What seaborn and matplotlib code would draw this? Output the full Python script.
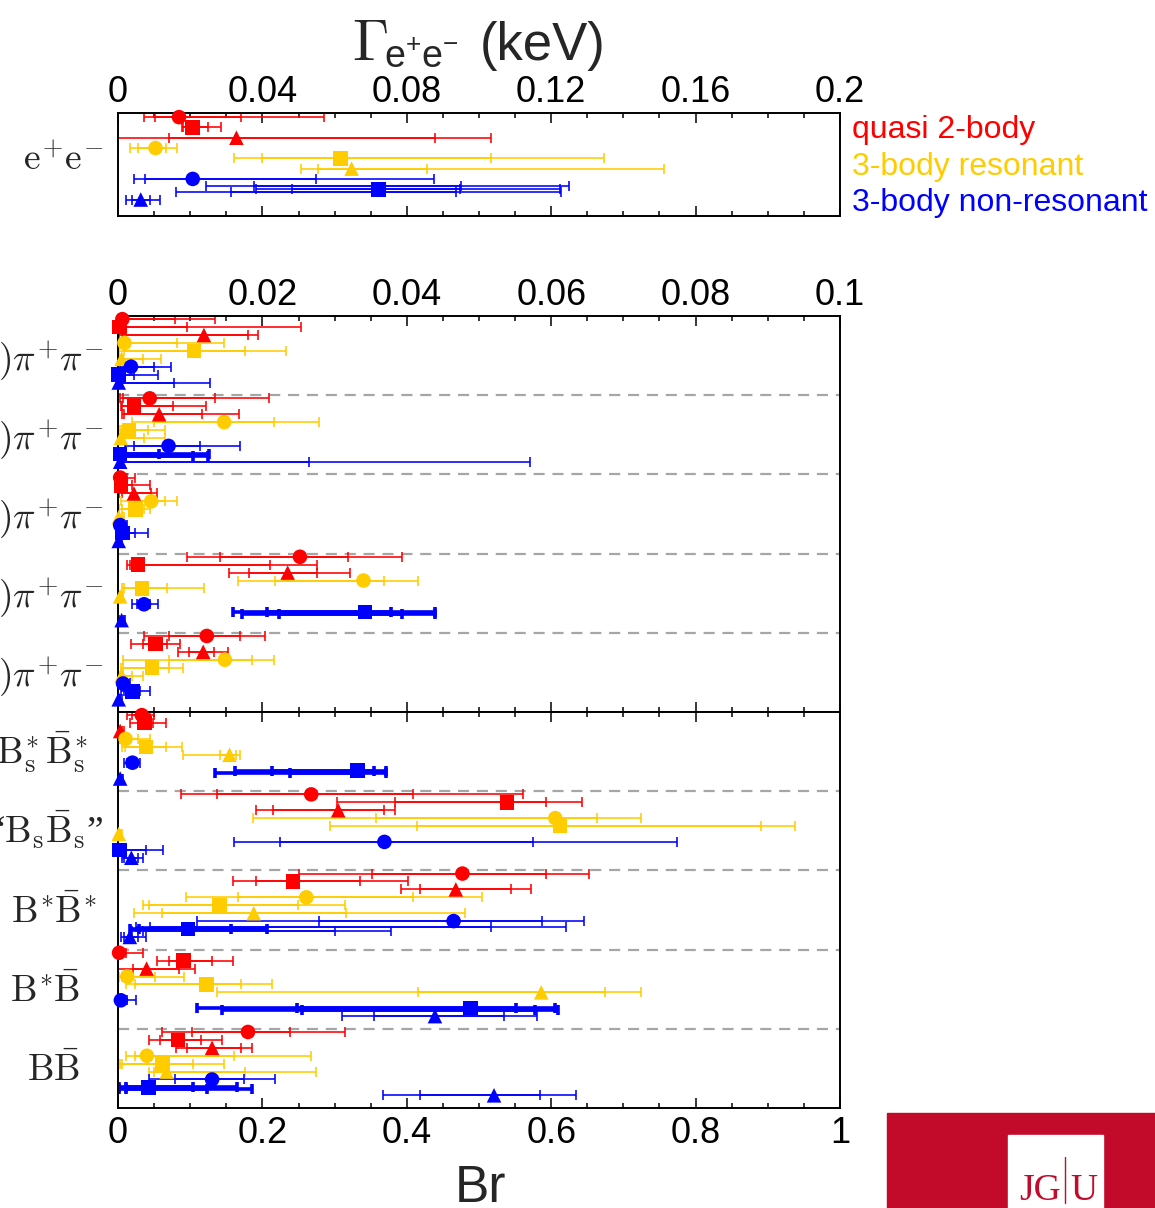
import matplotlib
matplotlib.use("Agg")
import matplotlib.pyplot as plt
from matplotlib.ticker import MultipleLocator, FuncFormatter
from matplotlib.patches import Rectangle
from matplotlib.lines import Line2D
import pandas as pd
import seaborn as sns

MECHANISMS = ["quasi 2-body", "3-body resonant", "3-body non-resonant"]
SHAPES = ["o", "s", "^"]

# Every row: centre, inner low, inner high, outer low, outer high.
# Row order inside a group: quasi 2-body (o, s, ^), 3-body resonant (o, s, ^),
# 3-body non-resonant (o, s, ^).

# Gamma(e+e-) in keV
GAMMA_EE = [
    (0.0169, 0.0102, 0.0341, 0.0072, 0.0572),
    (0.0207, 0.0180, 0.0248, 0.0176, 0.0284),
    (0.0328, 0.0142, 0.0879, -0.0030, 0.1034),
    (0.0104, 0.0056, 0.0133, 0.0033, 0.0163),
    (0.0616, 0.0398, 0.1034, 0.0321, 0.1346),
    (0.0647, 0.0555, 0.0856, 0.0506, 0.1512),
    (0.0207, 0.0075, 0.0549, 0.0043, 0.0875),
    (0.0721, 0.0483, 0.0946, 0.0383, 0.1225),
    (0.0063, 0.0038, 0.0089, 0.0023, 0.0115),
]

# branching fractions into bottomonium + pi+ pi-
PIPI_LABELS = [r"$\Upsilon(1\mathrm{S})\pi^{\!+}\!\pi^{\!-}$",
               r"$\Upsilon(2\mathrm{S})\pi^{\!+}\!\pi^{\!-}$",
               r"$\Upsilon(3\mathrm{S})\pi^{\!+}\!\pi^{\!-}$",
               r"$h_b(1\mathrm{P})\pi^{\!+}\!\pi^{\!-}$",
               r"$h_b(2\mathrm{P})\pi^{\!+}\!\pi^{\!-}$"]
PIPI_1 = [
    (0.0006, 0.0002, 0.0079, 0.0000, 0.0134),
    (0.0002, 0.0000, 0.0096, 0.0000, 0.0253),
    (0.0119, 0.0006, 0.0180, 0.0002, 0.0194),
    (0.0009, 0.0003, 0.0082, 0.0000, 0.0147),
    (0.0105, 0.0008, 0.0176, 0.0002, 0.0233),
    (0.0005, 0.0002, 0.0035, 0.0000, 0.0060),
    (0.0018, 0.0008, 0.0050, 0.0003, 0.0074),
    (0.0001, 0.0000, 0.0022, 0.0000, 0.0055),
    (0.0001, 0.0000, 0.0077, 0.0000, 0.0128),
]
PIPI_2 = [
    (0.0044, 0.0007, 0.0135, 0.0003, 0.0209),
    (0.0022, 0.0006, 0.0076, 0.0004, 0.0122),
    (0.0057, 0.0008, 0.0117, 0.0005, 0.0168),
    (0.0147, 0.0050, 0.0216, 0.0020, 0.0278),
    (0.0015, 0.0004, 0.0042, 0.0002, 0.0065),
    (0.0004, 0.0001, 0.0036, 0.0000, 0.0065),
    (0.0070, 0.0022, 0.0114, 0.0010, 0.0169),
    (0.0003, 0.0000, 0.0057, 0.0000, 0.0126),
    (0.0003, 0.0001, 0.0265, 0.0000, 0.0570),
]
PIPI_3 = [
    (0.0003, 0.0001, 0.0012, 0.0000, 0.0024),
    (0.0004, 0.0001, 0.0020, 0.0000, 0.0044),
    (0.0022, 0.0005, 0.0046, 0.0001, 0.0054),
    (0.0046, 0.0023, 0.0065, 0.0004, 0.0082),
    (0.0024, 0.0006, 0.0036, 0.0002, 0.0044),
    (0.0001, 0.0000, 0.0005, 0.0000, 0.0008),
    (0.0003, 0.0000, 0.0008, 0.0000, 0.0012),
    (0.0006, 0.0002, 0.0024, 0.0001, 0.0041),
    (0.0001, 0.0000, 0.0003, 0.0000, 0.0005),
]
PIPI_4 = [
    (0.0252, 0.0141, 0.0319, 0.0096, 0.0393),
    (0.0028, 0.0016, 0.0211, 0.0013, 0.0276),
    (0.0235, 0.0182, 0.0276, 0.0154, 0.0322),
    (0.0340, 0.0217, 0.0369, 0.0166, 0.0416),
    (0.0033, 0.0008, 0.0068, 0.0006, 0.0119),
    (0.0003, 0.0001, 0.0005, 0.0000, 0.0007),
    (0.0036, 0.0026, 0.0045, 0.0020, 0.0055),
    (0.0342, 0.0206, 0.0378, 0.0159, 0.0439),
    (0.0005, 0.0002, 0.0008, 0.0000, 0.0010),
]
PIPI_5 = [
    (0.0123, 0.0071, 0.0169, 0.0036, 0.0203),
    (0.0052, 0.0035, 0.0068, 0.0018, 0.0086),
    (0.0118, 0.0098, 0.0133, 0.0083, 0.0152),
    (0.0148, 0.0071, 0.0185, 0.0007, 0.0216),
    (0.0047, 0.0007, 0.0071, 0.0004, 0.0090),
    (0.0005, 0.0002, 0.0020, 0.0000, 0.0035),
    (0.0007, 0.0002, 0.0012, 0.0000, 0.0016),
    (0.0020, 0.0008, 0.0031, 0.0004, 0.0045),
    (0.0001, 0.0000, 0.0003, 0.0000, 0.0005),
]

# branching fractions into B-meson pairs
BB_LABELS = [r"$\mathrm{B_s^{\!*}\bar{B}_s^{\!*}}$", r"“$\mathrm{B_s\bar{B}_s}$”",
             r"$\mathrm{B^{\!*}\!\bar{B}^{\!*}}$", r"$\mathrm{B^{\!*}\!\bar{B}}$",
             r"$\mathrm{B\bar{B}}$"]
BB_1 = [
    (0.0330, 0.0200, 0.0450, 0.0120, 0.0500),
    (0.0370, 0.0280, 0.0480, 0.0170, 0.0670),
    (0.0030, 0.0010, 0.0060, 0.0000, 0.0080),
    (0.0105, 0.0030, 0.0280, 0.0010, 0.0445),
    (0.0390, 0.0100, 0.0670, 0.0060, 0.0880),
    (0.1545, 0.1410, 0.1640, 0.0896, 0.1690),
    (0.0200, 0.0120, 0.0260, 0.0090, 0.0300),
    (0.3320, 0.2130, 0.3550, 0.1625, 0.3710),
    (0.0030, 0.0010, 0.0050, 0.0000, 0.0070),
]
BB_2 = [
    (0.2676, 0.1370, 0.4090, 0.0878, 0.5610),
    (0.5390, 0.3830, 0.5930, 0.3030, 0.6430),
    (0.3050, 0.2150, 0.3690, 0.1916, 0.3830),
    (0.6057, 0.3570, 0.6640, 0.1870, 0.7240),
    (0.6120, 0.4140, 0.8910, 0.2936, 0.9380),
    (0.0010, 0.0000, 0.0040, 0.0000, 0.0060),
    (0.3690, 0.2244, 0.5748, 0.1607, 0.7740),
    (0.0020, 0.0000, 0.0387, 0.0000, 0.0625),
    (0.0185, 0.0080, 0.0280, 0.0050, 0.0340),
]
BB_3 = [
    (0.4770, 0.3520, 0.5930, 0.2500, 0.6530),
    (0.2423, 0.1916, 0.3356, 0.1590, 0.4017),
    (0.4679, 0.4184, 0.5439, 0.3925, 0.5717),
    (0.2608, 0.1656, 0.4090, 0.0940, 0.5037),
    (0.1402, 0.0436, 0.2490, 0.0347, 0.3150),
    (0.1880, 0.0610, 0.3160, 0.0223, 0.4807),
    (0.4648, 0.2790, 0.5870, 0.1095, 0.6457),
    (0.0971, 0.0287, 0.1566, 0.0164, 0.2070),
    (0.0164, 0.0080, 0.0277, 0.0040, 0.0387),
]
BB_4 = [
    (0.0015, 0.0005, 0.0114, 0.0000, 0.0347),
    (0.0907, 0.0700, 0.1300, 0.0535, 0.1586),
    (0.0396, 0.0213, 0.0842, -0.0050, 0.1065),
    (0.0129, 0.0050, 0.0510, 0.0015, 0.0920),
    (0.1229, 0.0238, 0.1700, 0.0104, 0.2130),
    (0.5862, 0.4153, 0.6740, 0.1378, 0.7250),
    (0.0040, 0.0010, 0.0120, 0.0000, 0.0248),
    (0.4880, 0.2478, 0.5515, 0.1095, 0.6050),
    (0.4390, 0.3543, 0.5340, 0.3097, 0.5810),
]
BB_5 = [
    (0.1800, 0.1020, 0.2380, 0.0610, 0.3150),
    (0.0833, 0.0585, 0.1155, 0.0436, 0.1440),
    (0.1303, 0.0950, 0.1700, 0.0810, 0.1860),
    (0.0400, 0.0238, 0.1600, 0.0114, 0.2680),
    (0.0620, 0.0060, 0.1040, 0.0030, 0.1467),
    (0.0674, 0.0500, 0.1760, 0.0436, 0.2740),
    (0.1303, 0.0790, 0.1750, 0.0436, 0.2170),
    (0.0426, 0.0110, 0.1040, 0.0015, 0.1650),
    (0.5208, 0.4187, 0.5847, 0.3667, 0.6340),
]

# further fit variants drawn on an existing row:
# (group, row, inner low, inner high, outer low, outer high)
EXTRA_EE = [
    (0, 7, 0.0376, 0.0951, 0.0243, 0.1249),
    (0, 7, 0.0312, 0.0937, 0.0161, 0.1228),
]
EXTRA_PIPI = [
    (1, 7, 0.0000, 0.0104, 0.0000, 0.0125),
    (3, 7, 0.0223, 0.0393, 0.0172, 0.0439),
]
EXTRA_BB = [
    (0, 7, 0.2380, 0.3130, 0.1350, 0.3710),
    (2, 7, 0.0350, 0.3000, 0.0200, 0.3780),
    (2, 7, 0.0450, 0.5160, 0.0250, 0.6200),
    (3, 7, 0.2550, 0.5770, 0.1437, 0.6100),
    (4, 7, 0.0110, 0.1230, 0.0015, 0.1850),
]

# ---------------------------------------------------------------- style
PALETTE = {"quasi 2-body": "#FF0000", "3-body resonant": "#FFCC00",
           "3-body non-resonant": "#0000FF"}
LW, THICK_LW = 1.15, 2.6
CAP = 3.6
MARKER_AREA = 110
ROW0, ROWSTEP = 0.04, 0.1
THICK_ROWS = {"ee": set(), "pp": {(1, 7), (3, 7)},
              "bb": {(0, 7), (2, 7), (3, 7), (4, 7)}}
EXTRA_THICK = {"ee": [False, False], "pp": [True, True],
               "bb": [True, False, False, True, True]}
EXTRA_SHIFT = {"ee": [-0.03, 0.03], "pp": [0.025, 0.025],
               "bb": [0.025, 0.02, -0.02, 0.025, 0.025]}

sns.set_theme(style="ticks", rc={
    "axes.edgecolor": "black", "axes.linewidth": 1.4,
    "xtick.color": "black", "ytick.color": "black",
    "axes.facecolor": "white", "figure.facecolor": "white",
})
plt.rcParams["font.family"] = ["Liberation Sans", "DejaVu Sans"]
plt.rcParams["mathtext.fontset"] = "cm"
plt.rcParams["mathtext.rm"] = "Liberation Sans"
plt.rcParams["mathtext.it"] = "Liberation Sans:italic"

W, H = 1155, 1208
fig = plt.figure(figsize=(W / 100, H / 100), dpi=100)


def fx(x):
    return x / W


def fy(y):
    return 1 - y / H


X0, X1 = 118, 840
ax_ee = fig.add_axes([fx(X0), fy(216), (X1 - X0) / W, (216 - 113) / H])
ax_pp = fig.add_axes([fx(X0), fy(712), (X1 - X0) / W, (712 - 316) / H])
ax_bb = fig.add_axes([fx(X0), fy(1108), (X1 - X0) / W, (1108 - 712) / H])


def build_frame(groups):
    recs = []
    for g, rows in enumerate(groups):
        for k, (c, ilo, ihi, olo, ohi) in enumerate(rows):
            recs.append({"group": g, "row": k,
                         "mechanism": MECHANISMS[k // 3], "shape": SHAPES[k % 3],
                         "value": c, "ilo": ilo, "ihi": ihi, "olo": olo, "ohi": ohi,
                         "y": g + ROW0 + ROWSTEP * k})
    return pd.DataFrame(recs)


def draw_bar(ax, y, c, lo, hi, color, lw):
    ax.errorbar([c], [y], xerr=[[max(c - lo, 0.0)], [max(hi - c, 0.0)]],
                fmt="none", ecolor=color, elinewidth=lw, capsize=CAP,
                capthick=lw, zorder=2)


def draw_panel(ax, key, groups, extras):
    df = build_frame(groups)
    for r in df.itertuples():
        lw = THICK_LW if (r.group, r.row) in THICK_ROWS[key] else LW
        color = PALETTE[r.mechanism]
        draw_bar(ax, r.y, r.value, r.olo, r.ohi, color, lw)
        draw_bar(ax, r.y, r.value, r.ilo, r.ihi, color, lw)
    for i, (g, k, ilo, ihi, olo, ohi) in enumerate(extras):
        base = df[(df.group == g) & (df.row == k)].iloc[0]
        y = base.y + EXTRA_SHIFT[key][i]
        lw = THICK_LW if EXTRA_THICK[key][i] else LW
        color = PALETTE[base.mechanism]
        draw_bar(ax, y, base.value, olo, ohi, color, lw)
        draw_bar(ax, y, base.value, ilo, ihi, color, lw)
    sns.scatterplot(data=df, x="value", y="y", hue="mechanism",
                    hue_order=MECHANISMS, palette=PALETTE, style="shape",
                    style_order=SHAPES, markers={s: s for s in SHAPES},
                    s=MARKER_AREA, linewidth=0, legend=False, ax=ax,
                    zorder=3, clip_on=False)
    ax.set(xlabel="", ylabel="")


def tick_fmt(v, pos):
    return f"{round(v, 6):g}"


def style_x(ax, xmax, major, minor, labels_on_top):
    ax.set_xlim(0, xmax)
    ax.xaxis.set_major_locator(MultipleLocator(major))
    ax.xaxis.set_minor_locator(MultipleLocator(minor))
    ax.xaxis.set_major_formatter(FuncFormatter(tick_fmt))
    ax.tick_params(axis="x", which="both", direction="in", top=True,
                   bottom=True, labeltop=labels_on_top,
                   labelbottom=not labels_on_top, width=1.1,
                   labelsize=26, pad=2.5 if labels_on_top else 6)
    ax.tick_params(axis="x", which="major", length=7)
    ax.tick_params(axis="x", which="minor", length=3.6)


def style_y(ax, ngroups):
    ax.set_ylim(ngroups, 0)
    if ngroups > 1:
        ax.set_yticks(range(1, ngroups))
        ax.tick_params(axis="y", which="both", direction="in", left=True,
                       right=True, length=3, width=1.1, labelleft=False)
        for g in range(1, ngroups):
            ax.axhline(g, color="#A6A6A6", lw=1.6, ls=(0, (5, 3.5)), zorder=1)
    else:
        ax.set_yticks([])
    ax.grid(False)


draw_panel(ax_ee, "ee", [GAMMA_EE], EXTRA_EE)
draw_panel(ax_pp, "pp", [PIPI_1, PIPI_2, PIPI_3, PIPI_4, PIPI_5], EXTRA_PIPI)
draw_panel(ax_bb, "bb", [BB_1, BB_2, BB_3, BB_4, BB_5], EXTRA_BB)

style_x(ax_ee, 0.2, 0.04, 0.01, True)
style_x(ax_pp, 0.1, 0.02, 0.005, True)
style_x(ax_bb, 1.0, 0.2, 0.05, False)
style_y(ax_ee, 1)
style_y(ax_pp, 5)
style_y(ax_bb, 5)

# row labels (the long ones run past the left edge of the page)
ax_ee.text((103 - X0) / (X1 - X0), 0.55, r"$\mathrm{e^{\!+}\!e^{\!-}}$",
           transform=ax_ee.get_yaxis_transform(), ha="right", va="baseline",
           fontsize=27, math_fontfamily="cm")
for g, lab in enumerate(PIPI_LABELS):
    ax_pp.text((104 - X0) / (X1 - X0), g + 0.69, lab,
               transform=ax_pp.get_yaxis_transform(), ha="right",
               va="baseline", fontsize=27, math_fontfamily="cm")
BB_RIGHT = [88, 104, 97, 80, 80]
for g, lab in enumerate(BB_LABELS):
    ax_bb.text((BB_RIGHT[g] - X0) / (X1 - X0), g + 0.65, lab,
               transform=ax_bb.get_yaxis_transform(), ha="right",
               va="baseline", fontsize=27, math_fontfamily="cm",
               family=["Liberation Serif", "DejaVu Serif"])

# axis titles
fig.text(fx(352), fy(60), r"$\Gamma$", fontsize=42, ha="left",
         va="baseline", math_fontfamily="cm")
fig.text(fx(384), fy(68), r"$\mathrm{e^{+}e^{-}}$", fontsize=27, ha="left",
         va="baseline", math_fontfamily="custom")
fig.text(fx(480), fy(60), "(keV)", fontsize=38, ha="left", va="baseline")
fig.text(fx(455), fy(1202), "Br", fontsize=37, ha="left", va="baseline")

# mechanism key
for name, yb in zip(MECHANISMS, [138, 175, 211]):
    fig.text(fx(852), fy(yb), name, color=PALETTE[name], fontsize=23,
             ha="left", va="baseline")

# university badge
fig.patches.append(Rectangle((fx(887), 0), fx(W) - fx(887), fy(1113),
                             transform=fig.transFigure, color="#C20A2B",
                             zorder=0))
fig.patches.append(Rectangle((fx(1008), 0), fx(1103) - fx(1008), fy(1135),
                             transform=fig.transFigure, color="white",
                             zorder=1))
fig.lines.append(Line2D([fx(1065), fx(1065)], [fy(1203), fy(1157)],
                        transform=fig.transFigure, color="#C20A2B", lw=1.0))
fig.text(fx(1061), fy(1200), "JG", color="#C20A2B", fontsize=27,
         family="Liberation Serif", ha="right", va="baseline")
fig.text(fx(1070), fy(1200), "U", color="#C20A2B", fontsize=27,
         family="Liberation Serif", ha="left", va="baseline")

fig.savefig("out.png", dpi=100)
